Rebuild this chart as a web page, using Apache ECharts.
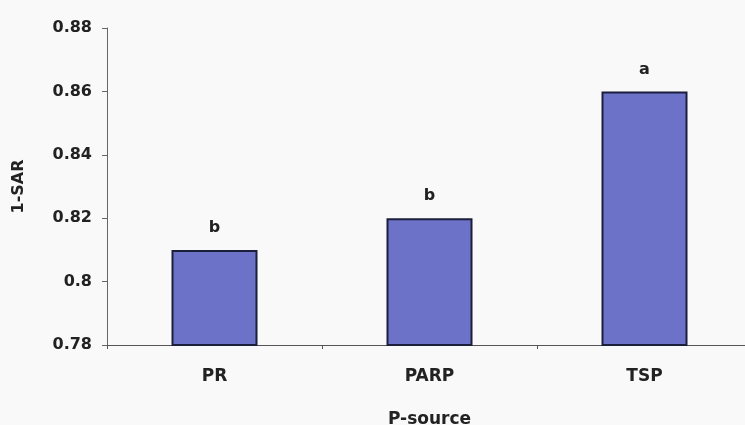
<!DOCTYPE html>
<html>
<head>
<meta charset="utf-8">
<script src="https://cdn.jsdelivr.net/npm/echarts@6/dist/echarts.min.js"></script>
<style>
  html, body { margin: 0; padding: 0; background: #f9f9f9; }
  #chart { width: 745px; height: 425px; }
</style>
</head>
<body>
<div id="chart"></div>
<script>
// P sources on the x axis and their mean 1-SAR values
const categories = ['PR', 'PARP', 'TSP'];
const values = [0.81, 0.82, 0.86];
// significance letters shown above each bar
const letters = ['b', 'b', 'a'];
// y axis range and tick spacing
const yMin = 0.78;
const yMax = 0.88;
const yStep = 0.02;

const font = 'DejaVu Sans';
const chart = echarts.init(document.getElementById('chart'), null, { renderer: 'canvas' });

chart.setOption({
  backgroundColor: '#f9f9f9',
  animation: false,
  grid: { left: 107, right: -7, top: 28, bottom: 80, containLabel: false, outerBoundsMode: 'none' },
  xAxis: {
    type: 'category',
    data: categories,
    name: 'P-source',
    nameLocation: 'middle',
    nameGap: 66,
    nameTextStyle: { fontFamily: font, fontWeight: 'bold', fontSize: 17, color: '#222' },
    axisLine: { lineStyle: { color: '#555', width: 1 } },
    axisTick: { show: true, alignWithLabel: false, length: 4, lineStyle: { color: '#555' } },
    axisLabel: { margin: 23, fontFamily: font, fontWeight: 'bold', fontSize: 17, color: '#222' }
  },
  yAxis: {
    type: 'value',
    min: yMin,
    max: yMax,
    interval: yStep,
    name: '1-SAR',
    nameLocation: 'middle',
    nameGap: 80,
    nameRotate: 90,
    nameTextStyle: { fontFamily: font, fontWeight: 'bold', fontSize: 16, color: '#222' },
    splitLine: { show: false },
    axisLine: { show: true, lineStyle: { color: '#666', width: 1 } },
    axisTick: { show: true, length: 5, lineStyle: { color: '#666' } },
    axisLabel: {
      margin: 15,
      fontFamily: font, fontWeight: 'bold', fontSize: 16, color: '#222',
      formatter: v => String(parseFloat(v.toFixed(2)))
    }
  },
  series: [{
    type: 'bar',
    data: values,
    barWidth: 86,
    itemStyle: { color: '#6d72c9', borderColor: '#1c1f3c', borderWidth: 2 },
    label: {
      show: true,
      position: 'top',
      distance: 14,
      fontFamily: font, fontWeight: 'bold', fontSize: 16, color: '#222',
      formatter: p => letters[p.dataIndex]
    }
  }]
});
</script>
</body>
</html>
